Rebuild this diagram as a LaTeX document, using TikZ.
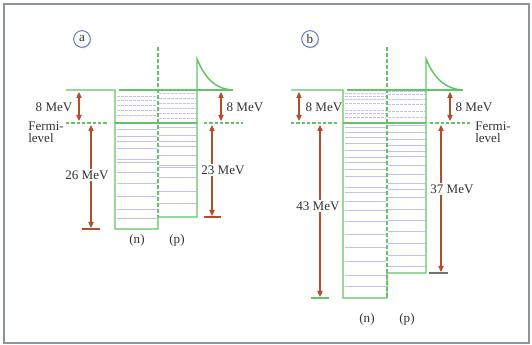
\documentclass[tikz,border=0pt]{standalone}
\usepackage{fontspec}
\setmainfont{Liberation Serif}
\usetikzlibrary{arrows.meta, shadows}
\definecolor{wellgreen}{RGB}{100,195,100}
\definecolor{levelpurple}{RGB}{198,190,236}
\definecolor{gaparrow}{RGB}{178,78,42}
\definecolor{tagblue}{RGB}{95,115,185}
\definecolor{framegray}{RGB}{140,148,158}
\tikzset{
  wall/.style={wellgreen, line width=1.1pt},
  fermiline/.style={wellgreen, line width=0.8pt, dash pattern=on 2.5pt off 1.5pt},
  divider/.style={wellgreen, line width=0.9pt, dash pattern=on 3pt off 1.5pt},
  level/.style={levelpurple, line width=0.75pt},
  holelevel/.style={levelpurple, line width=0.75pt, dash pattern=on 2pt off 1pt},
  gap/.style={gaparrow, line width=0.8pt, <->},
  baseline/.style={line width=1pt},
  mevlabel/.style={inner sep=1pt},
  cutlabel/.style={fill=white, inner sep=1pt},
  tag/.style={circle, draw=tagblue, fill=white, line width=0.7pt, minimum size=12.5pt, inner sep=0pt,
    drop shadow={shadow xshift=0.8pt, shadow yshift=-0.8pt, fill=black!25}}
}

\begin{document}
\begin{tikzpicture}[x=0.75pt, y=-0.75pt, >={Triangle[length=4.5pt, width=4pt]},
  font=\fontsize{9.8}{9.2}\selectfont, text=black!80]

\useasboundingbox (0,0) rectangle (532,345);
\draw[framegray, line width=0.9pt] (4,4) rectangle (529,343);

% ---------------- panel (a) ----------------
\node[tag] (taga) at (82,39) {a};

% levels in the n well
\foreach \y in {97,101,106,111,116}
  \draw[holelevel] (117,\y) -- (157,\y);
\foreach \y in {130,137,142,149,160,163,173,184,197,210,219}
  \draw[level] (117,\y) -- (157,\y);
% levels in the p well
\foreach \y in {94,99,104,109,114,119}
  \draw[holelevel] (159,\y) -- (196,\y);
\foreach \y in {128,136,142,147,156,166,168,178,192,204}
  \draw[level] (159,\y) -- (196,\y);

% wells
\draw[wall] (66,90) -- (115,90) -- (115,229) -- (158,229) -- (158,217) -- (197,217) -- (197,59)
  .. controls (206,80) and (216,89) .. (233,90);
\draw[wall] (119,90) -- (233,90);
\draw[wall] (115,123) -- (197,123);
\draw[divider] (158,47) -- (158,217);
\draw[fermiline] (66,123) -- (108,123);
\draw[fermiline] (204,123) -- (243,123);

% gaps
\coordinate (a8lt) at (79,92);   \coordinate (a8lb) at (79,121);
\coordinate (a8rt) at (221,92);  \coordinate (a8rb) at (221,121);
\coordinate (andt) at (91,125);  \coordinate (andb) at (91,228);
\coordinate (apdt) at (212,125); \coordinate (apdb) at (212,216);
\draw[gap] (a8lt) -- (a8lb);
\draw[gap] (a8rt) -- (a8rb);
\draw[gap] (andt) -- (andb);
\draw[gap] (apdt) -- (apdb);
\draw[baseline, gaparrow] (82,229) -- (100,229);
\draw[baseline, gaparrow] (204,217) -- (221,217);

\node[mevlabel, anchor=east] (a8l) at (74,107) {8 MeV};
\node[mevlabel, anchor=west] (a8r) at (225,107) {8 MeV};
\node[cutlabel] (an) at (87,175) {26 MeV};
\node[cutlabel] (ap) at (223,170) {23 MeV};
\node[anchor=west, align=left, inner sep=0pt] (afermi) at (28,132) {Fermi-\\level};
\node (anlab) at (137,240) {(n)};
\node (aplab) at (177,240) {(p)};

% ---------------- panel (b) ----------------
\node[tag] (tagb) at (310,39) {b};

% levels in the n well
\foreach \y in {94,97,100,104,111,114,118}
  \draw[holelevel] (345,\y) -- (386,\y);
\foreach \y in {128,133,138,144,151,158,163,170,177,188,193,202,211,222,235,248,262,276,287}
  \draw[level] (345,\y) -- (386,\y);
% levels in the p well
\foreach \y in {92,95,100,105,112,118}
  \draw[holelevel] (388,\y) -- (425,\y);
\foreach \y in {126,133,140,146,152,157,166,175,184,190,198,210,221,232,244,256,267}
  \draw[level] (388,\y) -- (425,\y);

% wells
\draw[wall] (291,90) -- (343,90) -- (343,298) -- (387,298) -- (387,273) -- (426,273) -- (426,59)
  .. controls (435,80) and (446,89) .. (463,90);
\draw[wall] (347,90) -- (463,90);
\draw[wall] (343,123) -- (426,123);
\draw[divider] (387,47) -- (387,298);
\draw[fermiline] (291,123) -- (337,123);
\draw[fermiline] (430,123) -- (470,123);

% gaps
\coordinate (b8lt) at (299,92);  \coordinate (b8lb) at (299,121);
\coordinate (b8rt) at (450,92);  \coordinate (b8rb) at (450,121);
\coordinate (bndt) at (320,125); \coordinate (bndb) at (320,297);
\coordinate (bpdt) at (441,125); \coordinate (bpdb) at (441,272);
\draw[gap] (b8lt) -- (b8lb);
\draw[gap] (b8rt) -- (b8rb);
\draw[gap] (bndt) -- (bndb);
\draw[gap] (bpdt) -- (bpdb);
\draw[baseline, wellgreen] (311,298) -- (329,298);
\draw[baseline, black!55] (429,273) -- (448,273);

\node[mevlabel, anchor=west] (b8l) at (304,107) {8 MeV};
\node[mevlabel, anchor=west] (b8r) at (454,107) {8 MeV};
\node[cutlabel] (bn) at (318,206) {43 MeV};
\node[cutlabel] (bp) at (452,189) {37 MeV};
\node[anchor=west, align=left, inner sep=0pt] (bfermi) at (475,132) {Fermi-\\level};
\node (bnlab) at (367,319) {(n)};
\node (bplab) at (407,319) {(p)};

\end{tikzpicture}
\end{document}
